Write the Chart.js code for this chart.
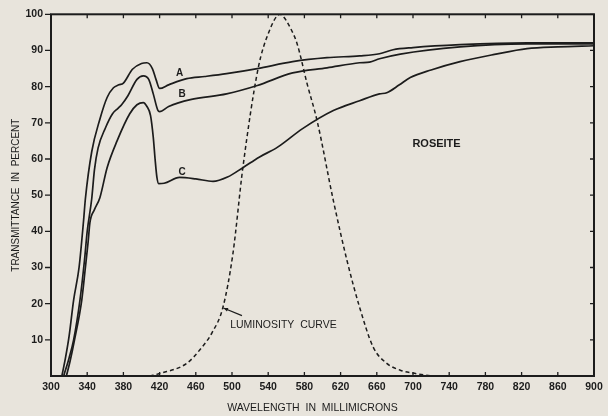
<!DOCTYPE html>
<html>
  <head>
    <title>Roseite</title>
    <script src="https://cdn.jsdelivr.net/npm/chart.js"></script>
    <style>
      body { margin: 0; background: #e8e4dc; }
    </style>
  </head>
  <body>
    <div style="width: 608px; height: 416px">
      <canvas id="grafico"></canvas>
    </div>
    <script>
      // wavelength (millimicrons) / transmittance (percent)
      var curvaA_nm = [312, 316, 320, 325, 331, 336, 338, 345, 354, 362, 369, 375, 380, 390, 400, 406, 412, 416, 420, 430, 450, 470, 494, 528, 567, 605, 641, 663, 678, 700, 752, 826, 900];
      var curvaA = [0, 5, 11, 21, 30, 43, 49, 62, 71, 77, 79.7, 80.5, 81, 84.8, 86.4, 86.6, 85, 82, 79.5, 80.5, 82.2, 82.8, 83.6, 85, 86.9, 88, 88.5, 89.1, 90.2, 90.8, 91.6, 92.1, 92.1];

      var curvaB_nm = [314, 320, 325, 332, 337, 340, 345, 348, 352, 360, 368, 374, 378, 385, 395, 402, 408, 413, 418, 420, 430, 454, 494, 528, 567, 605, 641, 652, 663, 686, 752, 826, 900];
      var curvaB = [0, 5, 10, 21, 32, 40, 49, 57, 63, 68.5, 72.5, 74, 75, 77.5, 82, 83, 82, 78, 73.5, 73.1, 74.5, 76.4, 78, 80.3, 83.8, 85.2, 86.6, 86.8, 87.7, 89, 91, 91.8, 91.8];

      var curvaC_nm = [317, 321, 326, 334, 338, 341, 343, 348, 354, 362, 373, 387, 395, 402, 406, 410, 413, 415, 417, 419, 425, 442, 460, 479, 495, 512, 530, 550, 578, 612, 641, 663, 671, 685, 697, 720, 752, 790, 826, 860, 900];
      var curvaC = [0, 4, 10, 21, 30, 37, 42.4, 46, 49.3, 57.6, 65, 72.5, 75, 75.6, 74.5, 72, 66, 60, 55, 53.2, 53.3, 54.9, 54.5, 53.8, 55, 57.6, 60.5, 63.2, 68.4, 73.4, 76.1, 78, 78.3, 80.5, 82.5, 84.6, 86.9, 88.9, 90.5, 91, 91.3];

      var luminosidade_nm = [409, 420, 450, 465, 478, 490, 501, 512, 529, 540, 553, 556, 564, 572, 583, 594, 612, 627, 641, 656, 671, 686, 700, 720];
      var luminosidade = [0, 0.7, 3.5, 7.4, 12, 19, 33.8, 57.6, 85.2, 94.6, 100, 99.6, 96.5, 91.8, 80.8, 70.6, 48.5, 32, 19, 8, 3.5, 1.6, 0.8, 0];

      var ticksX = [300, 340, 380, 420, 460, 500, 540, 580, 620, 660, 700, 740, 780, 820, 860, 900];
      var ticksY = [10, 20, 30, 40, 50, 60, 70, 80, 90, 100];

      function pontos(xs, ys) {
        return xs.map((x, i) => ({ x: x, y: ys[i] }));
      }

      var tinta = "#1c1c1c";
      var fonte = "'Liberation Sans', Arial, sans-serif";

      var moldura = {
        id: "moldura",
        beforeDraw(chart) {
          var ctx = chart.ctx;
          ctx.save();
          ctx.fillStyle = "#e8e4dc";
          ctx.fillRect(0, 0, chart.width, chart.height);
          ctx.restore();
        },
        afterDraw(chart) {
          var ctx = chart.ctx;
          var a = chart.chartArea;
          var sx = chart.scales.x;
          var sy = chart.scales.y;
          ctx.save();
          ctx.strokeStyle = tinta;
          ctx.fillStyle = tinta;

          // box
          ctx.lineWidth = 2;
          ctx.strokeRect(a.left, a.top, a.right - a.left, a.bottom - a.top);

          // ticks
          ctx.lineWidth = 1.3;
          ctx.beginPath();
          ticksX.forEach((v) => {
            var px = sx.getPixelForValue(v);
            ctx.moveTo(px, a.bottom);
            ctx.lineTo(px, a.bottom - 4);
            ctx.moveTo(px, a.top);
            ctx.lineTo(px, a.top + 4);
          });
          ticksY.forEach((v) => {
            var py = sy.getPixelForValue(v);
            ctx.moveTo(a.left, py);
            ctx.lineTo(a.left - 6, py);
            ctx.moveTo(a.right, py);
            ctx.lineTo(a.right - 4, py);
          });
          ctx.stroke();

          // x axis title, sits a little left of centre in the original
          ctx.textAlign = "center";
          ctx.textBaseline = "middle";
          ctx.font = "10.5px " + fonte;
          ctx.fillText("WAVELENGTH  IN  MILLIMICRONS", (a.left + a.right) / 2 - 10, a.bottom + 32);

          // curve letters and notes
          ctx.font = "bold 10px " + fonte;
          ctx.fillText("A", sx.getPixelForValue(442), sy.getPixelForValue(83.8));
          ctx.fillText("B", sx.getPixelForValue(445), sy.getPixelForValue(77.8));
          ctx.fillText("C", sx.getPixelForValue(445), sy.getPixelForValue(56.2));
          ctx.font = "bold 11px " + fonte;
          ctx.fillText("ROSEITE", sx.getPixelForValue(726), sy.getPixelForValue(64.2));
          ctx.font = "10.5px " + fonte;
          ctx.textAlign = "left";
          ctx.fillText("LUMINOSITY  CURVE", sx.getPixelForValue(498), sy.getPixelForValue(14));

          // arrow to the dashed curve
          var x1 = sx.getPixelForValue(511), y1 = sy.getPixelForValue(16.7);
          var x2 = sx.getPixelForValue(490.5), y2 = sy.getPixelForValue(18.8);
          ctx.lineWidth = 1.2;
          ctx.beginPath();
          ctx.moveTo(x1, y1);
          ctx.lineTo(x2, y2);
          ctx.stroke();
          var ang = Math.atan2(y2 - y1, x2 - x1);
          ctx.beginPath();
          ctx.moveTo(x2, y2);
          ctx.lineTo(x2 - 5 * Math.cos(ang - 0.4), y2 - 5 * Math.sin(ang - 0.4));
          ctx.lineTo(x2 - 5 * Math.cos(ang + 0.4), y2 - 5 * Math.sin(ang + 0.4));
          ctx.closePath();
          ctx.fill();
          ctx.restore();
        },
      };

      var estiloCurva = {
        borderColor: tinta,
        borderWidth: 1.7,
        pointRadius: 0,
        fill: false,
        cubicInterpolationMode: "monotone",
      };

      var grafico = new Chart(document.getElementById("grafico").getContext("2d"), {
        type: "line",
        data: {
          datasets: [
            Object.assign({ label: "A", data: pontos(curvaA_nm, curvaA) }, estiloCurva),
            Object.assign({ label: "B", data: pontos(curvaB_nm, curvaB) }, estiloCurva),
            Object.assign({ label: "C", data: pontos(curvaC_nm, curvaC) }, estiloCurva),
            Object.assign({ label: "Luminosity curve", data: pontos(luminosidade_nm, luminosidade) }, estiloCurva, {
              borderWidth: 1.5,
              borderDash: [4, 3],
            }),
          ],
        },
        options: {
          responsive: true,
          maintainAspectRatio: false,
          animation: false,
          layout: { padding: { top: 13, right: 14, left: 0, bottom: 0 } },
          plugins: { legend: { display: false }, tooltip: { enabled: false } },
          scales: {
            x: {
              type: "linear",
              min: 300,
              max: 900,
              afterFit: (s) => { s.height = 40; },
              afterBuildTicks: (s) => { s.ticks = ticksX.map((v) => ({ value: v })); },
              grid: { display: false, drawTicks: false },
              border: { display: false },
              ticks: {
                color: tinta,
                padding: 5,
                maxRotation: 0,
                autoSkip: false,
                font: { family: fonte, size: 10.5, weight: "bold" },
              },
            },
            y: {
              min: 0,
              max: 100,
              afterFit: (s) => { s.width = 51; },
              afterBuildTicks: (s) => { s.ticks = ticksY.map((v) => ({ value: v })); },
              grid: { display: false, drawTicks: false },
              border: { display: false },
              ticks: {
                color: tinta,
                padding: 8,
                font: { family: fonte, size: 10.5, weight: "bold" },
              },
              title: {
                display: true,
                text: "TRANSMITTANCE  IN  PERCENT",
                color: tinta,
                padding: { top: 10, bottom: 0 },
                font: { family: fonte, size: 10 },
              },
            },
          },
        },
        plugins: [moldura],
      });
    </script>
  </body>
</html>
